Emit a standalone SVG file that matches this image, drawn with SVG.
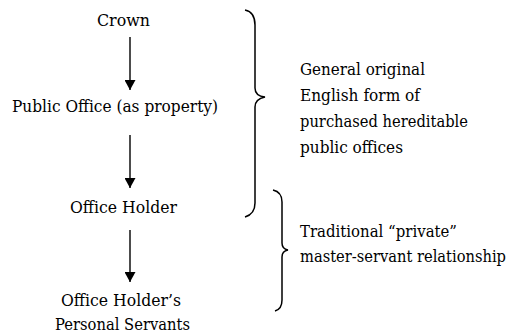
<svg xmlns="http://www.w3.org/2000/svg" width="510" height="334" viewBox="0 0 510 334">
<style>
text{font-family:'DejaVu Serif',serif;font-size:17px;fill:#000}
.ln{stroke:#000;stroke-width:1.4;fill:none}
.br{stroke:#000;stroke-width:1.5;fill:none}
</style>
<defs>
<marker id="ah" markerUnits="userSpaceOnUse" viewBox="0 0 10 11" refX="10" refY="5.5" markerWidth="10" markerHeight="11" orient="auto">
<path d="M0,0 L10,5.5 L0,11 z" fill="#000"/>
</marker>
</defs>
<rect width="510" height="334" fill="#fff"/>
<g id="crown"><text x="97" y="26" textLength="53" lengthAdjust="spacingAndGlyphs">Crown</text></g>
<g id="public-office"><text x="12" y="112" textLength="206" lengthAdjust="spacingAndGlyphs">Public Office (as property)</text></g>
<g id="office-holder"><text x="70" y="213" textLength="107" lengthAdjust="spacingAndGlyphs">Office Holder</text></g>
<g id="servants"><text x="61" y="306" textLength="120" lengthAdjust="spacingAndGlyphs">Office Holder’s</text><text x="55" y="330" textLength="135" lengthAdjust="spacingAndGlyphs">Personal Servants</text></g>
<g id="connectors">
<line class="ln" x1="130" y1="37" x2="130" y2="90" marker-end="url(#ah)"/>
<line class="ln" x1="130" y1="135" x2="130" y2="188" marker-end="url(#ah)"/>
<line class="ln" x1="130" y1="230" x2="130" y2="282" marker-end="url(#ah)"/>
</g>
<g id="brace-general">
<path class="br" d="M245,10 Q255,12 255,25 L255,88 Q255,96 265,97 Q255,99 255,107 L255,203 Q255,214 245,217"/>
<text x="300" y="75" textLength="125" lengthAdjust="spacingAndGlyphs">General original</text>
<text x="300" y="101" textLength="120" lengthAdjust="spacingAndGlyphs">English form of</text>
<text x="300" y="127" textLength="168" lengthAdjust="spacingAndGlyphs">purchased hereditable</text>
<text x="300" y="153" textLength="103" lengthAdjust="spacingAndGlyphs">public offices</text>
</g>
<g id="brace-traditional">
<path class="br" d="M273,190 Q282,192 282,202 L282,243 Q282,249 288,250 Q282,251 282,257 L282,300 Q282,309 275,311"/>
<text x="300" y="237" textLength="157" lengthAdjust="spacingAndGlyphs">Traditional “private”</text>
<text x="300" y="262" textLength="206" lengthAdjust="spacingAndGlyphs">master-servant relationship</text>
</g>
</svg>
